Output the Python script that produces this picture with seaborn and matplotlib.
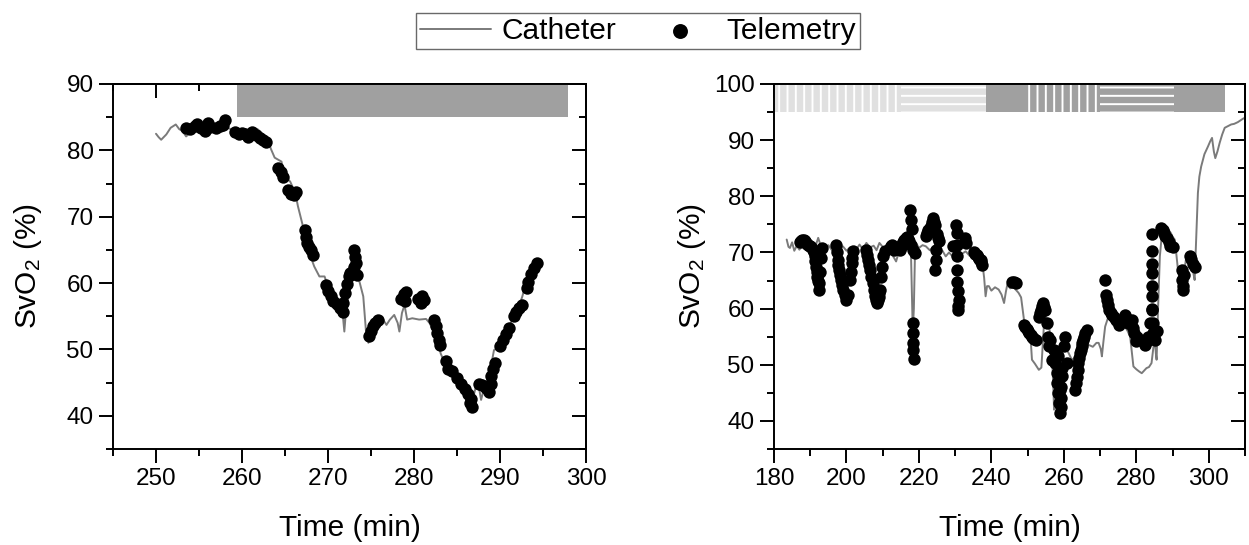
import matplotlib
matplotlib.use("Agg")
import matplotlib.pyplot as plt
import seaborn as sns
from matplotlib.ticker import MultipleLocator

# ---------------- data ----------------
# Left panel: catheter SvO2 trace
left_cath_t = [250.0, 250.3, 250.6, 251.2, 251.7, 252.3, 252.7, 253.1, 253.5, 254.2, 254.8, 255.5,
               256.2, 257.0, 257.6, 258.1, 258.8, 259.5, 260.3, 261.0, 261.8, 262.4, 263.0, 263.4,
               263.8, 264.2, 264.6, 264.8, 265.2, 265.6, 266.2, 266.5, 267.1, 267.7, 268.4, 269.0,
               269.6, 270.2, 270.7, 271.2, 271.7, 271.9, 272.1, 272.7, 273.1, 273.5, 274.1, 274.4,
               274.7, 275.2, 275.6, 276.0, 276.4, 276.8, 277.2, 277.7, 278.1, 278.3, 278.6, 278.9,
               279.2, 279.8, 280.6, 281.4, 281.8, 282.6, 283.1, 283.9, 284.4, 284.9, 285.3, 285.7,
               286.0, 286.4, 286.8, 287.2, 287.6, 287.8, 288.2, 288.8, 289.3, 289.9, 290.7, 291.5,
               292.2, 292.6, 293.0, 293.4, 294.0, 294.4]
left_cath_v = [82.5, 82.0, 81.6, 82.4, 83.4, 83.9, 83.2, 82.9, 82.1, 82.9, 83.3, 82.8,
               83.4, 83.0, 83.5, 83.6, 83.1, 82.8, 83.2, 82.7, 83.2, 82.5, 81.4, 80.1,
               78.9, 78.6, 78.3, 76.6, 75.8, 75.3, 73.6, 71.6, 68.5, 65.0, 62.5, 61.0,
               61.0, 58.7, 57.8, 57.0, 55.5, 52.7, 56.0, 60.0, 62.0, 61.0, 58.0, 53.0,
               51.0, 52.5, 53.2, 53.7, 54.5, 53.7, 54.5, 55.2, 54.0, 52.7, 55.5, 56.7,
               54.5, 54.7, 54.5, 54.6, 54.0, 51.9, 49.4, 46.9, 46.0, 46.4, 45.5, 44.9,
               44.6, 44.4, 42.4, 44.4, 43.9, 42.4, 44.4, 46.4, 49.9, 50.4, 53.0, 54.5,
               56.5, 58.0, 60.0, 61.0, 61.5, 61.7]

# Left panel: telemetry SvO2 samples
left_tele_t = [253.5, 254.0, 254.5, 254.8, 255.2, 255.7, 256.0, 256.3, 257.0, 257.4, 257.8, 258.0,
               259.2, 259.6, 260.0, 260.4, 260.7, 261.2, 261.6, 262.1, 262.4, 262.8,
               264.2, 264.5, 264.8, 265.4, 265.7, 266.0, 266.3,
               267.3, 267.4, 267.6, 267.8, 268.0, 268.3,
               269.8, 270.0, 270.3, 270.6, 271.0, 271.4, 271.7, 271.8, 272.0, 272.2, 272.4,
               272.6, 272.9, 273.0, 273.1, 273.0, 273.3, 273.4,
               274.8, 275.0, 275.2, 275.5, 275.8,
               278.5, 278.8, 279.1, 279.0, 280.5, 280.9, 281.2, 280.8,
               282.3, 282.5, 282.7, 282.9, 283.0, 283.7, 284.0, 284.4,
               285.0, 285.5, 285.9, 286.3, 286.6, 286.8, 286.5,
               287.5, 287.9, 288.4, 288.7, 288.9, 289.0, 289.2, 289.4,
               290.0, 290.4, 290.7, 291.0, 291.6, 291.9, 292.2, 292.5,
               293.1, 293.3, 293.6, 293.9, 294.3]
left_tele_v = [83.4, 83.2, 83.6, 83.9, 83.3, 82.9, 84.1, 83.5, 83.3, 83.6, 83.8, 84.6,
               82.8, 82.5, 82.6, 82.4, 82.0, 82.8, 82.3, 81.9, 81.5, 81.2,
               77.3, 76.8, 76.0, 74.0, 73.5, 73.2, 73.7,
               68.0, 67.0, 66.0, 65.5, 65.0, 64.3,
               59.7, 58.8, 58.0, 57.3, 56.8, 56.3, 55.7, 57.0, 58.5, 59.8, 61.0,
               61.5, 61.8, 62.5, 64.0, 65.0, 63.0, 61.2,
               52.0, 52.8, 53.5, 54.0, 54.4,
               57.6, 58.4, 58.7, 57.3, 57.6, 58.0, 57.4, 57.0,
               54.5, 53.6, 52.5, 51.5, 50.6, 48.3, 47.0, 46.7,
               45.7, 44.8, 44.0, 43.3, 42.5, 41.4, 41.9,
               44.8, 44.6, 44.2, 43.6, 44.8, 46.0, 47.0, 48.0,
               50.5, 51.5, 52.3, 53.2, 55.0, 55.6, 56.3, 56.7,
               59.2, 60.2, 61.3, 62.2, 63.0]

# Right panel: catheter SvO2 trace
right_cath_t = [183.5, 184.0, 184.4, 185.0, 185.6, 186.3, 187.0, 188.0, 189.0, 190.0, 191.0, 192.2,
                193.0, 194.0, 195.0, 196.0, 197.0, 198.0, 199.0, 200.0, 201.0, 202.0, 203.0, 203.6,
                204.5, 205.5, 206.5, 207.5, 208.3, 209.1, 210.0, 211.0, 212.0, 213.0, 213.7, 214.5,
                215.5, 216.5, 217.2, 217.8, 218.1, 218.3, 218.6, 218.9, 219.2, 220.0, 221.0, 221.9,
                223.0, 224.0, 224.7, 225.5, 226.5, 227.4, 228.3, 229.3, 230.5, 231.5, 232.9, 234.0,
                235.0, 236.0, 237.0, 237.5, 238.0, 238.4, 238.8, 239.3, 240.0, 241.0, 242.0, 242.8,
                243.5, 244.0, 244.4, 245.2, 246.0, 246.7, 247.5, 248.2, 249.0, 249.6, 250.3, 250.8,
                251.2, 252.0, 253.1, 253.8, 254.3, 254.7, 255.3, 255.8, 256.3, 256.8, 257.1, 257.3,
                257.5, 257.7, 258.5, 259.5, 260.4, 261.3, 262.2, 263.0, 264.0, 265.0, 265.9, 267.0,
                268.0, 269.0, 269.6, 270.2, 270.5, 270.9, 271.4, 272.3, 273.0, 273.8, 275.1, 276.0,
                276.9, 277.6, 278.3, 278.8, 279.2, 280.0, 280.8, 281.5, 282.2, 282.8, 283.5, 284.2,
                284.7, 285.1, 285.4, 285.6, 286.0, 286.5, 287.0, 287.4, 288.0, 288.8, 289.5, 290.0,
                290.6, 291.0, 291.5, 292.0, 292.5, 293.0, 293.8, 294.5, 295.2, 295.7, 296.1, 296.5,
                297.0, 297.4, 297.9, 298.8, 299.8, 300.4, 300.9, 301.4, 301.8, 302.4, 303.0, 303.7,
                304.4, 305.3, 306.2, 307.0, 308.0, 309.4, 310.0]
right_cath_v = [72.3, 71.0, 70.8, 71.8, 70.3, 71.2, 70.5, 71.4, 70.3, 71.0, 70.2, 72.6,
                71.0, 70.6, 71.3, 70.4, 71.0, 70.2, 71.1, 70.3, 70.9, 70.0, 70.8, 71.4,
                70.6, 71.7, 70.9, 71.2, 70.4, 71.7, 71.0, 70.5, 70.0, 69.2, 68.4, 70.2,
                71.4, 70.6, 70.9, 70.0, 62.0, 56.0, 60.0, 69.5, 71.7, 70.8, 71.3, 71.1,
                70.4, 71.0, 70.5, 69.8, 70.3, 69.3, 70.0, 69.3, 70.1, 69.6, 70.2, 69.4,
                69.7, 69.0, 68.6, 68.1, 65.5, 62.2, 64.0, 64.0, 63.2, 63.8, 63.4, 62.5,
                61.0, 63.0, 64.3, 63.6, 63.9, 63.4, 62.8, 62.0, 58.0, 57.5, 57.4, 55.0,
                50.9, 50.2, 49.1, 49.5, 55.0, 59.2, 58.2, 57.4, 55.0, 50.5, 46.0, 42.0,
                47.5, 50.3, 52.5, 53.9, 53.0, 52.1, 50.9, 51.2, 51.5, 52.5, 53.3, 53.5,
                53.2, 53.9, 53.9, 52.8, 51.5, 54.0, 56.8, 58.6, 57.8, 57.0, 56.2, 56.5,
                56.8, 56.0, 55.0, 52.0, 49.7, 49.2, 48.8, 48.5, 49.0, 49.4, 49.6, 50.3,
                53.0, 54.5, 52.0, 50.9, 60.0, 69.3, 72.8, 74.7, 74.5, 74.1, 73.5, 72.8,
                72.3, 70.0, 66.9, 65.0, 64.0, 65.5, 69.3, 69.5, 68.7, 66.5, 65.1, 72.0,
                80.6, 83.5, 85.3, 87.5, 88.9, 89.8, 90.4, 88.0, 86.8, 88.0, 89.5, 91.0,
                92.2, 92.5, 92.8, 92.9, 93.2, 93.8, 94.0]

# Right panel: telemetry SvO2 samples
right_tele_t = [187.1, 187.5, 187.8, 188.2, 188.5, 188.9, 189.2, 189.5, 189.8, 190.3,
                190.8, 191.0, 191.2, 191.4, 191.6, 191.8, 192.0, 192.2, 192.3, 192.5, 192.8, 193.1, 193.3,
                197.2, 197.4, 197.6, 197.8, 198.0, 198.3, 198.5, 198.8, 199.1, 199.5, 199.8, 200.3,
                200.9, 201.2, 201.6, 201.8, 201.5,
                205.5, 205.8, 206.0, 206.3, 206.5, 206.9, 207.2, 207.5, 207.8, 208.1, 208.4, 208.7,
                208.9, 209.1, 209.3, 209.6, 209.9, 210.2, 210.5,
                211.9, 212.2, 212.5, 212.9, 213.2,
                214.8, 215.1, 215.4, 215.7, 216.0, 216.3, 216.6, 216.9, 217.2, 217.7, 218.3, 218.9,
                217.4, 217.7, 218.0,
                218.3, 218.4, 218.5, 218.5, 218.6,
                221.9, 222.3, 222.6, 223.0, 223.3, 223.6, 223.9, 224.2, 224.5, 225.0, 225.3, 225.6,
                224.8, 224.6, 224.5,
                229.3, 230.2, 230.5, 230.5, 230.4, 230.6, 230.6, 230.9, 231.1, 230.9, 230.9, 232.9,
                232.6, 235.2, 235.6, 235.9, 236.3, 236.6, 237.0, 237.2, 237.5,
                245.7, 246.2, 246.7,
                249.0, 249.4, 249.7, 250.1, 250.4, 250.8, 251.1, 251.4, 251.7, 252.2,
                253.1, 253.4, 253.6, 253.9, 254.2, 254.5, 254.9, 255.3, 255.6, 256.0, 256.3,
                256.7, 257.2, 257.6, 258.0, 258.2, 258.5, 258.8, 259.0, 259.2, 259.6, 260.0, 260.4,
                260.8, 258.4, 258.7, 259.3, 258.6, 258.9, 259.1, 259.4,
                263.2, 263.4, 263.6, 263.8, 264.0, 264.2, 264.4, 264.7, 264.9, 265.1, 265.3, 265.5,
                265.9, 266.3,
                271.4, 271.6, 271.9, 272.2, 272.5, 273.0, 273.4, 273.8, 274.3, 275.1,
                276.9, 277.3, 277.8, 278.2, 278.7, 279.1, 279.4, 279.9, 280.1,
                282.4, 282.9, 283.3, 283.8, 284.3, 284.3, 284.3, 284.3, 284.3, 284.3, 284.3, 284.5,
                285.2, 285.6, 284.6, 284.2,
                286.9, 287.3, 287.6, 288.0, 288.5, 289.0, 289.4, 290.2,
                292.5, 292.6, 292.8, 292.9, 293.1,
                294.7, 295.2, 295.6, 296.1]
right_tele_v = [71.8, 72.1, 72.3, 72.2, 72.0, 71.7, 71.5, 71.3, 71.2, 71.0,
                70.5, 70.0, 69.3, 68.4, 67.5, 66.6, 65.7, 65.0, 64.5, 63.4, 66.5, 69.0, 70.8,
                71.4, 70.0, 68.7, 67.8, 66.9, 66.0, 65.1, 64.2, 63.4, 62.5, 61.6, 62.5,
                65.1, 66.6, 68.1, 70.2, 69.0,
                70.5, 69.6, 68.7, 67.8, 66.9, 65.7, 64.5, 63.3, 62.2, 61.5, 61.0, 61.5,
                62.0, 62.7, 63.4, 65.7, 67.5, 69.3, 70.2,
                70.8, 71.2, 71.3, 71.0, 70.5,
                70.5, 71.0, 71.5, 71.9, 72.3, 72.6, 72.8, 72.4, 72.0, 71.3, 70.5, 69.9,
                77.6, 75.8, 74.1,
                57.4, 55.6, 53.9, 52.7, 51.0,
                72.9, 73.5, 74.0, 74.4, 74.7, 75.4, 76.1, 75.5, 74.9, 73.2, 72.6, 72.0,
                70.5, 68.7, 66.9,
                71.1, 74.9, 73.5, 71.4, 69.3, 66.9, 64.8, 63.1, 61.6, 59.8, 60.5, 71.7,
                72.5, 70.0, 69.8, 69.5, 69.2, 68.9, 68.6, 68.3, 67.8,
                64.8, 64.8, 64.6,
                57.1, 56.7, 56.3, 56.0, 55.6, 55.3, 55.0, 54.8, 54.6, 54.4,
                58.5, 59.2, 59.8, 60.4, 61.0, 60.2, 59.8, 57.4, 55.0, 53.3, 54.5,
                50.9, 52.7, 50.3, 48.5, 46.7, 44.9, 43.2, 41.4, 46.1, 48.0, 53.3, 55.0,
                50.3, 51.5, 49.5, 44.0, 47.5, 45.5, 42.5, 49.5,
                45.5, 46.7, 47.9, 49.1, 50.3, 51.2, 52.1, 52.7, 53.3, 53.9, 54.5, 55.0,
                55.6, 56.2,
                65.1, 62.5, 61.6, 60.7, 59.8, 59.3, 58.9, 58.5, 58.0, 57.1,
                58.9, 58.2, 57.4, 57.7, 58.0, 56.5, 55.6, 54.2, 55.0,
                53.6, 54.3, 55.0, 57.4, 59.8, 62.2, 64.0, 66.3, 70.2, 73.2, 68.0, 55.6,
                54.5, 56.0, 57.5, 60.0,
                74.4, 74.0, 73.5, 73.0, 72.6, 71.8, 71.1, 71.0,
                66.9, 65.1, 63.4, 64.0, 66.0,
                69.3, 68.8, 68.0, 67.5]

# Protocol phase bars along the top of each panel
left_phase_start = [259.4]
left_phase_end = [297.9]
left_phase_shade = ["dark"]
left_phase_hatch = [""]

right_phase_start = [180.0, 215.0, 238.4, 250.0, 270.0, 290.4]
right_phase_end = [215.0, 238.4, 250.0, 270.0, 290.4, 304.6]
right_phase_shade = ["light", "light", "dark", "dark", "dark", "dark"]
right_phase_hatch = ["||", "--", "", "||", "--", ""]

# ---------------- style ----------------
sns.set_theme(style="ticks")
plt.rcParams["font.family"] = ["Liberation Sans", "DejaVu Sans"]
plt.rcParams["axes.linewidth"] = 1.4
plt.rcParams["hatch.linewidth"] = 1.4
for key in ("text.color", "axes.labelcolor", "xtick.color", "ytick.color", "axes.edgecolor"):
    plt.rcParams[key] = "black"

SHADE = {"dark": "#a0a0a0", "light": "#e0e0e0"}
CATH_COLOR = "#7a7a7a"
TICK_FS = 17.5
LABEL_FS = 21.5

fig = plt.figure(figsize=(12.49, 5.45), dpi=100)
axL = fig.add_axes([113 / 1249, 1 - 449 / 545, 473 / 1249, 365 / 545])
axR = fig.add_axes([774 / 1249, 1 - 449 / 545, 471 / 1249, 365 / 545])


def draw_phases(ax, starts, ends, shades, hatches, ytop):
    for s, e, sh, h in zip(starts, ends, shades, hatches):
        ax.bar(x=s, height=5, width=e - s, bottom=ytop - 5, align="edge",
               color=SHADE[sh], edgecolor="white", linewidth=0, hatch=h or None,
               zorder=1)


def style_axis(ax, xlim, ylim, xmaj, xmin, ymaj, ymin, ylab_x):
    ax.set_xlim(*xlim)
    ax.set_ylim(*ylim)
    ax.xaxis.set_major_locator(MultipleLocator(xmaj))
    ax.xaxis.set_minor_locator(MultipleLocator(xmin))
    ax.yaxis.set_major_locator(MultipleLocator(ymaj))
    ax.yaxis.set_minor_locator(MultipleLocator(ymin))
    ax.tick_params(which="major", direction="out", length=10, width=1.4,
                   labelsize=TICK_FS, colors="black", labelcolor="black", pad=4)
    ax.tick_params(which="minor", direction="out", length=5, width=1.4, colors="black")
    for sp in ax.spines.values():
        sp.set_visible(True)
        sp.set_color("black")
        sp.set_linewidth(1.4)
    # mirrored inward ticks on top / right
    top = ax.secondary_xaxis("top")
    top.xaxis.set_major_locator(MultipleLocator(xmaj))
    top.xaxis.set_minor_locator(MultipleLocator(xmin))
    top.tick_params(which="major", direction="in", length=10, width=1.4, labeltop=False)
    top.tick_params(which="minor", direction="in", length=5, width=1.4)
    right = ax.secondary_yaxis("right")
    right.yaxis.set_major_locator(MultipleLocator(ymaj))
    right.yaxis.set_minor_locator(MultipleLocator(ymin))
    right.tick_params(which="major", direction="in", length=10, width=1.4, labelright=False)
    right.tick_params(which="minor", direction="in", length=5, width=1.4)
    ax.set_xlabel("Time (min)", fontsize=LABEL_FS, color="black")
    ax.set_ylabel(r"SvO$\mathregular{_2}$ (%)", fontsize=LABEL_FS, color="black")
    ax.xaxis.set_label_coords(0.5, -0.177)
    ax.yaxis.set_label_coords(ylab_x, 0.5)
    ax.grid(False)


for ax, ct, cv, tt, tv, ph, ylim in [
    (axL, left_cath_t, left_cath_v, left_tele_t, left_tele_v,
     (left_phase_start, left_phase_end, left_phase_shade, left_phase_hatch), (35, 90)),
    (axR, right_cath_t, right_cath_v, right_tele_t, right_tele_v,
     (right_phase_start, right_phase_end, right_phase_shade, right_phase_hatch), (35, 100)),
]:
    draw_phases(ax, *ph, ytop=ylim[1])
    sns.lineplot(x=ct, y=cv, ax=ax, color=CATH_COLOR, linewidth=1.4,
                 estimator=None, sort=False, label="Catheter", zorder=2)
    sns.scatterplot(x=tt, y=tv, ax=ax, color="black", s=80, linewidth=0,
                    label="Telemetry", zorder=3)

handles, labels = axL.get_legend_handles_labels()
for ax in (axL, axR):
    if ax.get_legend() is not None:
        ax.get_legend().remove()

style_axis(axL, (245, 300), (35, 90), 10, 5, 10, 5, -0.145)
style_axis(axR, (180, 310), (35, 100), 20, 10, 10, 5, -0.140)

leg = fig.legend(handles, labels, loc="center", bbox_to_anchor=(638 / 1249, 1 - 31 / 545),
                 ncol=2, frameon=True, fancybox=False, fontsize=LABEL_FS,
                 handlelength=2.36, handletextpad=0.37, columnspacing=0.94,
                 borderpad=0.15, markerscale=1.2, labelcolor="black")
leg.get_frame().set_edgecolor("#444444")
leg.get_frame().set_linewidth(1.0)

fig.savefig("out.png", dpi=100, facecolor="white")
